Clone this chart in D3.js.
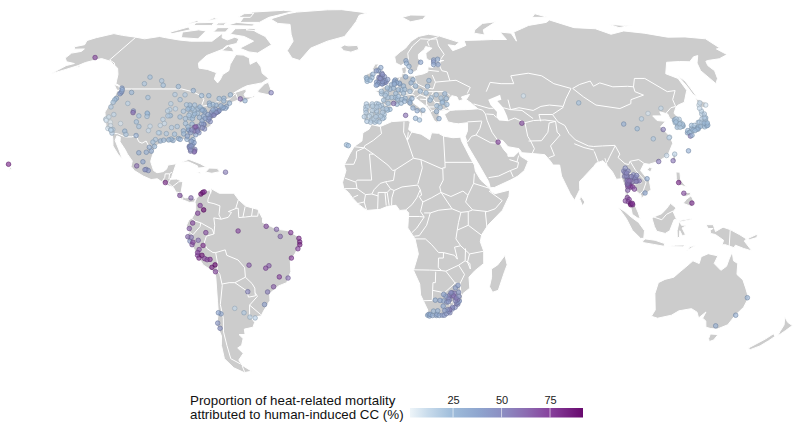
<!DOCTYPE html>
<html>
<head>
<meta charset="utf-8">
<script src="https://d3js.org/d3.v7.min.js"></script>
<style>
  body { margin: 0; background: #fff; }
  text { font-family: "Liberation Sans", Arial, sans-serif; fill: #111; }
</style>
</head>
<body>
<svg id="chart" width="800" height="430"></svg>
<script>
// land outlines, lon/lat
var northAmerica = [[-168,65.6],[-164,66.5],[-166,68.3],[-163,69.5],[-156.5,71.3],[-150,70.5],[-141,69.7],[-135,69],[-128,70],[-124,69.5],[-115,68.5],[-108,68],[-100,68],[-96,68],[-94,71.5],[-92,69.5],[-88,68.5],[-85,69.7],[-82,69],[-81.5,67],[-86,66],[-87,64.5],[-93,62],[-94.5,59],[-92.5,57],[-88,56.5],[-82.5,55.2],[-82,52.8],[-79.5,51.3],[-79,52.5],[-79,54.5],[-77,56],[-78,58.5],[-78,62.4],[-74,62.2],[-70,61],[-68,58.5],[-65.5,59.8],[-62,57.5],[-60,55],[-56,53],[-58.5,51.3],[-65,50.2],[-67,49.3],[-70,47.5],[-65,49],[-64.5,48],[-65,47],[-64,46],[-61,46],[-60,47],[-60,46],[-63.5,44.6],[-66,43.6],[-66,45],[-67,44.8],[-70,43.7],[-70.5,41.8],[-74,40.6],[-75,38.5],[-76,37],[-75.5,35.3],[-78,33.9],[-81,32],[-81.4,30.5],[-80,27],[-80.2,25.3],[-81.5,25.9],[-82.8,28],[-84,30],[-86,30.4],[-89.5,30.2],[-89.3,29.2],[-91,29.2],[-94,29.6],[-97,27.9],[-97.4,25],[-97.8,22.3],[-96,19],[-94.5,18.2],[-92,18.6],[-90.7,19.5],[-90.3,21],[-87,21.5],[-87.6,19],[-88.2,16.5],[-88.8,15.8],[-86,15.9],[-83.3,15],[-83.7,11],[-82,9],[-80,9.2],[-77.5,8.7],[-78,7.5],[-80,7.3],[-81,7.7],[-83,8.3],[-85,10],[-87,12.8],[-90,13.7],[-94,16],[-96.5,15.7],[-100,17],[-104,19],[-105.6,20.5],[-105.5,22.5],[-108,25],[-109.5,26.7],[-112.5,29.5],[-113,31.2],[-114.7,31.7],[-114.7,30],[-112,26.5],[-109.8,23.2],[-112,25],[-115,28],[-116,30.7],[-117.2,32.6],[-120.5,34.5],[-122.5,37.7],[-124.3,40.4],[-124.2,43],[-124,46.3],[-124.7,48.4],[-122.5,47.5],[-122.7,49],[-125,50.2],[-127.5,51],[-130,54.5],[-133,57],[-137,58.5],[-140,59.7],[-146,60.8],[-149,60],[-152,59.2],[-154,58],[-158,56.5],[-163,54.8],[-160,58],[-157,58.8],[-162,59.5],[-165,61],[-165,63],[-161,63.7],[-161,64.7],[-166,64.6]];
var southAmerica = [[-77.4,8.7],[-75.5,10.7],[-72,12],[-71.5,10.7],[-71.5,12.4],[-68,10.7],[-62,10.7],[-60,8.4],[-57,6],[-52,4.8],[-50,1.5],[-50,0],[-44,-2.5],[-40,-2.9],[-35.2,-5.3],[-34.9,-8],[-37,-11.5],[-39,-14],[-39,-18],[-41,-22],[-44.5,-23.2],[-48.5,-26],[-48.7,-28.5],[-52,-32.3],[-53.5,-34.2],[-58,-34.7],[-56.8,-36.5],[-58,-38.3],[-62,-39],[-62.3,-41],[-65,-41],[-63.7,-42.5],[-65.3,-45],[-67.5,-46],[-65.8,-48],[-69,-50.5],[-68.5,-52.5],[-65,-54.8],[-69,-55.3],[-73,-53.5],[-75.5,-50],[-74.5,-45],[-73,-41.5],[-73.7,-37.5],[-71.6,-33],[-71,-29],[-70.3,-20],[-70.5,-18.3],[-75,-15.5],[-77,-12.3],[-79.5,-7.5],[-81.3,-5.5],[-80,-3.3],[-81,-1],[-80,1],[-78.8,1.6],[-77.3,4],[-77.5,7],[-78,7.5]];
var africa = [[-5.9,35.8],[-2,35.1],[3,36.9],[10,37.3],[11,36.9],[10.2,34],[11.5,33.1],[15.5,32.3],[19,30.3],[20,32.8],[23,32.6],[25,31.6],[29,31],[32.3,31.2],[32.5,29.9],[34,27],[35.5,24],[37.2,21],[37.5,18.7],[39.5,15.5],[43.1,12.5],[43.3,11.5],[45,10.5],[51.2,11.9],[50.8,9.5],[48,4.5],[42,-1],[39.5,-4.5],[39,-7],[40.5,-10.5],[40.7,-15],[37,-17.8],[34.9,-20],[35.5,-24],[32.8,-26],[32.5,-28.5],[31,-30],[28,-33],[25.7,-34],[22,-34.2],[20,-34.8],[18.4,-34.2],[18.3,-32],[15,-26.5],[14.5,-22.5],[11.8,-17.5],[13.7,-11.5],[12.3,-6],[9.3,-2],[9.5,1],[9.7,3.5],[8.5,4.6],[6,4.4],[4.5,6.3],[1,5.9],[-2,4.8],[-7.5,4.4],[-11,6.8],[-13.3,9],[-15,11],[-17,12.5],[-17.5,14.7],[-16.2,19],[-17,21],[-14.8,25],[-13,27.8],[-9.8,29.8],[-9.5,32.8],[-6.9,34.1]];
var eurasia = [[-9,37],[-9.5,38.7],[-8.8,41.5],[-9.2,43.2],[-8,43.7],[-2,43.4],[-1.2,44.7],[-1.2,46],[-2.5,47.3],[-4.7,48.2],[-1.6,48.6],[-1.5,49.6],[1.5,50.2],[4,51.8],[5,53.3],[8,53.7],[8.5,55.5],[8.2,57],[10.5,57.7],[10.5,56],[10,54.6],[11,54],[14,54],[18.5,54.7],[21,55.5],[21.5,57.5],[24,57.2],[24.3,58.4],[23.5,59.2],[28,59.6],[30,60],[25,60.2],[22.5,60],[21.3,61],[21.5,63],[25.3,65],[22,65.7],[21,64.5],[17.5,62.5],[17.2,60.7],[18.8,59.8],[16.5,57.5],[16,56.2],[14.3,55.5],[13,55.4],[11.3,58.5],[10.5,59.3],[8,58],[5.5,59],[5,61.5],[8,63.5],[11,65],[14.5,68],[19,70],[25,71],[31,70.2],[41,67.5],[38,66],[34.5,66.5],[36,64],[40,65],[44,66.2],[44,68.3],[54,68.5],[60,68.7],[68,68.7],[67,72],[73,71.5],[73,68],[75,72],[81,73.5],[87,75],[100,76.5],[104,77.7],[113,74],[125,73.5],[130,71],[140,72.5],[150,71.5],[160,69.7],[170,69.8],[180,69],[180,65],[177.5,64.7],[179,62.4],[172,60.7],[165,60],[163.5,59.7],[162,58],[162.5,56],[160,53],[156.8,51],[155.6,56],[158,59],[163,62],[160,61.5],[155,59.5],[150,59.6],[143,59.3],[137,54.8],[141,53],[140.5,48.5],[135.5,44],[132,43],[130.5,42.3],[128,40],[129.4,37],[129,35.2],[126.4,34.5],[126.6,37],[125,38],[125,39.7],[122,40.5],[122,39],[118,39],[119,37.3],[122.5,37],[119.3,35],[121.8,31.5],[122,29],[118.5,24.5],[114,22.3],[110,21.3],[108,21.6],[106,19],[109,15],[109.3,12],[106.8,10.4],[105,8.7],[105,10],[102.9,11.7],[100.9,13.4],[100,13.4],[99.8,11],[100.3,8.5],[102.3,6.2],[103.5,3.5],[104.2,1.4],[103,1.7],[101,3],[100.4,6],[98.3,8],[98.7,13],[97.7,16],[95.5,15.8],[94.3,18.5],[92.3,21],[91,22.6],[88,21.7],[86.8,20.5],[82,16.5],[80.2,15],[80,12],[77.6,8.1],[76,10.5],[73,17],[72.7,21],[70,21],[69,22.5],[67,24.8],[62,25.2],[57.5,25.5],[56.5,27],[52,27.7],[50,30],[48,30.2],[50,26.7],[51.5,25],[51.5,24.2],[54,24.2],[56.3,26],[56.7,24.3],[59.8,22.5],[57.8,19],[55,17],[52,15.6],[45,12.8],[43.3,12.7],[42.7,15],[39.2,21],[35,28],[34.5,29.5],[34.2,31.3],[35.5,33.5],[36,36.5],[32,36.1],[30,36.3],[27.5,36.8],[26.3,39.5],[29,41],[31.5,41.2],[36,41.3],[41.5,41.6],[39,43.7],[37,45],[39,47],[35,46],[35.5,45],[33.5,44.5],[33,46],[30.7,46.5],[28.7,44.5],[28,42],[29,41.2],[26.2,40.9],[24,40.8],[23.8,38],[22.8,36.5],[21.5,37.3],[19.4,41.5],[18.5,42.5],[14.5,45.2],[13.5,45.7],[12.3,45.3],[12.5,44],[16,41.8],[18.4,40],[16.7,40],[16,38],[15.7,40],[12.5,41.5],[10.2,43],[8.8,44.4],[6,43.2],[3.2,43.2],[3,41.9],[0,39.7],[-0.3,38.5],[-2,36.8],[-5.3,36.1],[-6.3,36.7],[-7.5,37.2]];
var australia = [[114,-22],[113.5,-26],[115.7,-32],[115,-34.3],[118,-35],[123.5,-33.9],[126,-32.3],[131,-31.5],[134,-32.8],[135.7,-34.9],[137.8,-32.7],[137.5,-35],[139.5,-36],[141,-38.3],[143.5,-38.8],[146.4,-39],[150,-37.4],[151,-34],[153,-31],[153.5,-27.5],[151,-24],[149,-21],[146,-19],[145.4,-15],[143.5,-14],[142.5,-10.8],[141.7,-13],[141,-16],[139,-17.5],[135.7,-15],[136.8,-12.2],[132.7,-11.4],[130,-12.5],[129.5,-15],[126.8,-14],[124,-16.5],[122.2,-18],[120,-20],[116.5,-20.8]];
var islands = [
  [[-62,66.5],[-67,63],[-72,63.5],[-78,65],[-73,68],[-80,70],[-89,71],[-89,73.5],[-80,73.7],[-75,72],[-68,70]],
  [[-105,69],[-115,69.5],[-118,72],[-110,73],[-105,72.5]],
  [[-125,72],[-118,74.3],[-115,73],[-123,71.2]],
  [[-90,76.5],[-78,76.5],[-75,79],[-62,82.5],[-70,83.1],[-90,82],[-92,80]],
  [[-96,75],[-80,74.7],[-80,75.7],[-92,76.5]],
  [[-95,79],[-87,79],[-88,81.3],[-94,81]],
  [[-116,75],[-105,75],[-106,76.5],[-117,76.3]],
  [[-100,72],[-93,72],[-93,74],[-100,74]],
  [[-87,64],[-80,63.5],[-82,65],[-85,66]],
  [[-122,76],[-116,76.5],[-118,77.5]],
  [[-103,75.2],[-98,75],[-98,76.3],[-103,76.2]],
  [[-112,77.5],[-106,78],[-110,78.8]],
  [[-82,73],[-77,72.7],[-76,73.6],[-81,73.7]],
  [[-59,47.7],[-53,46.7],[-53,48.5],[-55.5,51.5],[-57,51],[-59,48.5]],
  [[-128,50.7],[-125,48.6],[-123.5,48.4],[-125,50]],
  [[-85,22],[-82,23.1],[-77,21.5],[-74.2,20.2],[-77.7,19.9],[-78,20.7],[-82,22.2]],
  [[-74.4,18.4],[-71.7,18],[-68.4,18.6],[-69.8,19.8],[-73,19.9]],
  [[-78.3,18.3],[-76.3,17.9],[-76.5,18.5]],
  [[-67.2,18],[-65.6,18],[-65.7,18.5],[-67.2,18.5]],
  [[-73,78.2],[-66,76],[-58,75.5],[-54,71],[-51,68],[-52,64],[-48,61],[-43.5,60],[-40,65],[-32,68],[-23,70],[-20,74],[-18,77],[-17,80],[-12,81.5],[-30,83.5],[-40,83.4],[-60,82],[-65,81]],
  [[-24,65.5],[-22,64],[-18,63.4],[-14,64.5],[-15,66.2],[-20,66],[-22,66.4]],
  [[-156,19],[-155,19.6],[-155.8,20.2]],
  [[-154.5,57],[-152.5,57.4],[-153,58.2]],
  [[-5.5,50],[-3,50.6],[1.3,51.2],[1.7,52.7],[0,53.3],[-1.5,55],[-2,56],[-2,57.6],[-4,57.6],[-3,58.6],[-5,58.6],[-6.2,56.7],[-5,55],[-3.2,54.8],[-3,53.4],[-4.5,53.3],[-4.5,52.2],[-5.2,51.8],[-3,51.4],[-4.3,51.1]],
  [[-10,52],[-6.2,52.2],[-6,54],[-5.6,54.7],[-7,55.3],[-8.5,54.8],[-10,54]],
  [[11,79],[16,76.8],[24,78],[27,80],[17,80.2]],
  [[51.5,71.5],[57,70.7],[58,73],[69,76.8],[60,76],[53,73]],
  [[95,79],[105,79],[100,81]],
  [[137,75.5],[145,75],[150,75.2],[140,74]],
  [[142,54.3],[143.3,52],[143,49],[143,46],[142,47],[142,50]],
  [[130.9,34],[132.5,35.5],[136,35.7],[137,37.3],[139,38],[140,40],[141.3,41.4],[142,39.5],[141,38],[140.8,35.7],[139,35],[136.8,34.5],[135.5,33.5],[135,34.6],[132,34]],
  [[140,41.5],[141.2,43.3],[141.8,45.4],[145.3,43.9],[143.2,42],[141,42.4]],
  [[130,32],[131,31.2],[132,33],[131,34],[129.7,33.3]],
  [[132.5,33.5],[134.5,33.6],[134,34.4],[132.5,34]],
  [[120.2,23],[121,22],[122,25],[121,25.2]],
  [[108.7,19.3],[110,18.5],[111,19.8],[110,20.2]],
  [[79.8,8.5],[80.8,6],[81.8,7.5],[80.2,9.7]],
  [[120.3,16],[120.6,18.5],[122.2,18.4],[122,15.5],[124,13],[121,13.8]],
  [[122,7],[125.5,5.8],[126.5,7.5],[125.5,9.8],[123.5,8.5]],
  [[122,11],[125.5,11],[125,10],[123,9.5]],
  [[109,1.5],[110,-1.5],[111,-3.2],[114.5,-4],[116.3,-3],[118,1],[119,1.2],[117.7,4],[119,5.3],[116.8,7],[115,5],[113,3.2],[111.3,2.6],[109.7,2]],
  [[95.3,5.6],[98,4],[100.5,2],[103.5,0],[106,-3],[105.8,-5.8],[104.5,-5.8],[101,-2.8],[98.5,1.5]],
  [[105.3,-6.8],[106.5,-6],[110.5,-6.5],[114.5,-7.7],[114.3,-8.7],[110,-8],[106,-7.4]],
  [[119.5,-5.5],[120.4,-5.5],[120.4,-3],[121.5,-4.8],[122.8,-4.5],[121.3,-2],[123.3,-1],[121,-1],[120.2,0.7],[125,1.5],[125,1.1],[120,0.1],[119.3,-3]],
  [[116,-8.8],[119,-8.3],[123,-8.2],[122,-8.9]],
  [[123.6,-10.3],[127.2,-8.4],[125,-8.8]],
  [[131,-0.8],[134,-0.8],[135,-3.3],[138,-1.7],[141,-2.6],[145,-4.5],[147.8,-6],[147,-6.8],[150.5,-10.4],[147,-9.5],[143.5,-8.3],[143,-9.2],[139,-8],[138,-8.3],[138.5,-6.5],[135,-4.4],[133,-4],[132.8,-2.8],[134,-2.2],[132,-2.2]],
  [[148.5,-5.8],[152.2,-4.2],[152,-5.5],[149,-6.3]],
  [[144.7,-40.8],[148.3,-41],[148,-43],[146.5,-43.6],[145.3,-42.5]],
  [[166.5,-46],[168,-46.6],[171,-45.2],[173,-43.3],[174.3,-41.7],[172.7,-40.7],[171,-42.6]],
  [[172.8,-34.5],[175.5,-36.5],[178.5,-37.7],[177,-39.5],[175.3,-41.6],[174.8,-39.8],[174.7,-37.5]],
  [[49.3,-12],[50.4,-15.5],[49.5,-18],[47.5,-24.8],[45.2,-25.5],[43.7,-23.5],[44.3,-20],[44,-17],[46.5,-15.5]]
];
var caspian = [[47,45],[53,46.8],[53,45],[51,44.5],[53,42],[53.8,39],[54,37],[50,37.3],[49,38.5],[49.7,40.4],[47.5,43]];

// country borders as open lines
var bordersAmericas = [
  [[-141,69.6],[-141,60.2]],[[-141,60.2],[-137,59],[-133,56]],
  [[-123,49],[-95,49],[-89.5,48],[-84.5,46.5],[-82.5,45],[-82.5,42.5],[-79,43],[-76,44.2],[-74.7,45],[-71,45.2],[-69,47.3],[-67.8,46],[-67,45]],
  [[-117.1,32.5],[-114.8,32.5],[-111,31.3],[-108.2,31.3],[-106.5,31.8],[-104.5,29.5],[-103,29],[-101.5,29.8],[-99.5,27.5],[-97.2,25.9]],
  [[-92.2,14.5],[-91,16.5],[-91,17.8],[-89.2,17.8],[-88.3,18.4]],[[-89.2,17.8],[-89.2,15.9]],
  [[-90,13.8],[-89.3,14.4],[-88.5,15.8]],[[-89.3,14.4],[-87.7,13.3]],[[-87.6,13],[-85,14.9],[-83.2,15]],[[-85.7,11.1],[-83.7,10.9]],[[-83,8.4],[-82.6,9.6]],[[-77.3,8.7],[-77.9,7.2]],
  [[-71.3,11.8],[-72.5,8.5],[-72.5,7.4],[-70,6.9],[-67.5,6.1],[-67.8,2.8],[-66.9,1.2]],
  [[-66.9,1.2],[-69.9,1.7],[-69.5,-1],[-69.9,-4.2]],
  [[-69.9,-4.2],[-70.5,-2.5],[-75.2,-0.1],[-77.5,0.5],[-78.8,1.4]],
  [[-75.2,-0.1],[-75.5,-1.5],[-78.5,-4.5],[-80,-3.4]],
  [[-69.9,-4.2],[-73,-5],[-74,-7.5],[-73,-9.5],[-70.6,-11],[-69.5,-11]],
  [[-69.5,-11],[-69,-15],[-69.5,-17.5]],
  [[-69.5,-17.5],[-68.5,-19],[-68,-23],[-70,-30],[-70,-35],[-71.5,-40],[-72,-45],[-72.5,-50],[-69,-52]],
  [[-68.6,-52.7],[-68.6,-55]],
  [[-68,-22.5],[-65,-22],[-62.6,-22]],[[-62.6,-22],[-58,-20]],
  [[-69.5,-11],[-65.5,-10],[-65,-12],[-60.5,-13.7],[-58,-16.5],[-58,-20]],
  [[-58,-20],[-55.5,-22.3],[-54.5,-24],[-54.6,-25.6]],
  [[-62.6,-22],[-58,-25],[-57.6,-27.3],[-54.6,-26.8],[-54.6,-25.6]],
  [[-54.6,-25.6],[-53.8,-27],[-57.6,-30.2]],
  [[-57.6,-30.2],[-58.4,-34]],[[-57.6,-30.2],[-53.5,-33.7]],
  [[-60,8.5],[-61,5.2],[-60,5.2]],[[-60.7,5.2],[-64,4],[-62.7,3.7],[-64,1.9],[-66.9,1.2]],
  [[-60,5.2],[-59.7,1.8],[-57,2],[-54.5,2.3],[-52,2.3],[-51.7,4.1]],
  [[-57.2,5.8],[-58,2]],[[-54,5.7],[-54.5,2.3]]
];
var bordersAfrica = [
  [[-2,35],[-1.5,32.5],[-5,30],[-8.7,28]],[[-8.7,28],[-8.7,27.3],[-13,27.7]],
  [[-8.7,27.3],[-12,26],[-12,23.5],[-13,21.3],[-17,21.3]],
  [[-8.7,27.3],[-4.8,25],[-6.5,25],[-5.5,15.5],[-11.5,15.5],[-12.2,14.8],[-16.5,16.2]],
  [[-4.8,25],[1.2,21],[3.2,19],[4.2,19.2]],[[4.2,19.2],[11.9,23.5]],[[11.9,23.5],[9.5,30],[10,33]],
  [[8.3,36.9],[8,33],[9.5,30]],[[9.5,30],[11.5,33.1]],[[25,31.6],[25,22]],[[25,22],[37,22]],
  [[25,22],[25,20],[24,20],[24,19.5]],[[24,19.5],[15,23]],[[15,23],[11.9,23.5]],[[15,23],[15.5,20],[13.5,14]],
  [[13.5,13.7],[7,13],[3.7,11.7]],[[4.2,19.2],[3.5,15.4],[1,15],[0.2,14.9]],[[0.2,14.9],[2.3,12.3]],
  [[3.7,11.7],[2.8,9],[2.7,6.3]],[[3.7,11.7],[2.3,12.3],[0.9,11]],[[0,11],[0.5,6.2]],[[0.9,11],[1.7,6.2]],
  [[0.9,11],[-2.8,11]],[[-2.8,11],[-3,5]],[[0.2,14.9],[-2,14.3],[-4.5,12],[-5.4,10.4]],[[-2.8,9.7],[-5.4,10.4]],
  [[-5.4,10.4],[-8,10.2]],[[-8,10.2],[-8.5,7.5],[-7.5,4.4]],[[-8.5,7.5],[-11.4,6.9]],[[-11,10],[-13,9.2]],
  [[-8,10.2],[-11.5,12.4],[-12,14.8]],[[-11.5,12.4],[-16.7,12.4]],
  [[13.5,13.7],[14.5,12],[13,9],[11,6.5],[8.5,4.6]],[[14.5,12],[15,10],[14,9.5],[15.5,7.5]],
  [[15.5,7.5],[19,9],[23,11]],[[24,19.5],[24,15.5],[22.5,13],[23,11]],[[23,11],[27.4,5]],[[15.5,7.5],[14.5,4],[16,2]],
  [[16,3.5],[18.5,3.5],[22,4.5],[27.4,5],[31,3.7]],[[9.8,2.2],[14,2.2],[16,2],[13,-2],[11,-3.7]],
  [[18.5,3.5],[17,-1],[14,-4.8],[12,-5]],[[12.3,-6],[16.5,-6],[19,-8],[22,-11],[24,-11],[24,-13]],
  [[24,-13],[22,-13],[22,-16.5],[23.5,-17.6]],[[11.8,-17.3],[18.5,-17.4],[23.5,-17.6],[25.2,-17.8]],
  [[24,-11],[28.5,-12],[29.8,-13.4],[28.5,-9],[31,-8.5]],[[31,3.7],[30,0],[29.5,-2.8],[29,-6],[31,-8.5]],
  [[23,11],[27,9.5],[32,11.5],[34,10]],[[34,10],[33,7.5],[35.8,4.6]],[[31,3.7],[34,4],[35.8,4.6],[41.8,4],[41,3.9]],
  [[34,10],[36.5,14.3],[37,17.9]],[[36.5,14.3],[43,12.5]],[[42.7,11.5],[48,8],[45,5],[41.8,4]],
  [[41,3.9],[41.6,-1.7]],[[34,4],[34,-1]],[[34,-1],[39.5,-4.7]],[[29.5,-2.8],[34,-1]],
  [[34.7,-11.5],[40.5,-10.5]],[[31,-8.5],[34.7,-11.5]],[[33,-9.5],[33,-14],[35,-15],[35.3,-17],[34,-14.5],[34.7,-11.5]],
  [[30.4,-15.6],[33,-14]],[[25.2,-17.8],[30.4,-15.6]],[[30.4,-15.6],[33,-19],[31.3,-22.4]],[[25.2,-17.8],[29.2,-22.1],[31.3,-22.4]],
  [[21,-18],[21,-22],[20,-22],[20,-28.5]],[[20,-28.5],[16.5,-28.6]],[[20,-24.8],[25,-25.7],[29.3,-22.1]],
  [[31.3,-22.4],[32,-26],[32.8,-26.9]],[[27,-29.6],[29,-28.9],[29.3,-29.9],[28,-30.6],[27,-29.6]]
];
var bordersAsia = [
  [[34.2,31.3],[34.9,29.5]],[[35,29.4],[37,31.5],[39,32],[44.7,29.2],[47.5,29]],[[39,32],[41,34.4],[42.3,37]],[[36,36.8],[42.3,37.1]],
  [[48,30],[46,33],[44.7,37.3]],[[44.7,37.3],[44.4,39.7],[43.5,41.1],[41.5,41.6]],[[40,43.4],[46.5,41.8],[48.5,41.8]],[[44.8,39.7],[48,39.5],[48.9,38.4]],
  [[42.8,16.4],[47,17],[52,19],[55,20],[55.7,22],[52,23]],[[55,22],[56,24.5]],[[52,19],[53,16.6]],
  [[54,37.3],[57,38.2],[61,36.5]],[[61,36.5],[61,31.5],[61.8,30],[63,27],[61.6,25]],[[61,29.8],[66.5,29.9],[70,33],[71.5,36.4],[74.5,37]],
  [[61,36.5],[65,37.3],[70,37.5],[74.5,37]],[[53,42],[56,41.3],[61,41],[65,38]],[[56,45],[56,41.3],[60,42],[66,41],[70,42.5]],
  [[70,42.5],[74,43],[80,42.5]],[[68,39.5],[74,39.5]],[[74,39.5],[80,42.2]],[[68,37],[68,39.5]],
  [[47,48],[50,51.5],[55,51],[61,51],[61,54],[70,55],[76,54],[80,51],[87,49.2]],[[87,49.2],[82.5,45.3],[80,42.5]],
  [[87.8,49.2],[92,50.7],[98,52],[98,50],[102,51.3],[107,49.8],[114,50],[116.7,49.8]],
  [[87.8,49.2],[91,46],[95,43],[105,41.7],[111,43.5],[112,45],[119,46.7],[116,48],[116.7,49.8]],
  [[116.7,49.8],[120,53],[125,53],[131,48],[135,48.4],[131,45],[130.5,42.5]],[[130.5,42.5],[128,42],[124.5,40]],[[126.7,37.8],[128.4,38.6]],
  [[74,39.5],[75.5,36.8],[78,35.5],[79,32.5],[81,30.2],[86,28],[88.2,27.8],[92,28],[97.3,28.2],[98.5,25],[97.5,23.8],[100,21.5],[101.5,21.2],[102.3,22.4],[106,23],[108,21.6]],
  [[80.2,28.8],[84,27.4],[88,26.5]],[[74.5,37],[74,33],[75,32],[70,28],[71,24.5],[68.5,23.7]],[[88,26],[89,22]],[[92,23.5],[92.4,21]],
  [[97.3,28],[94,24],[92.6,22]],[[100,20.5],[98,19],[97.5,16.5],[99,11],[98.7,10]],[[100,20.5],[101,18],[104,18],[105.6,14.5]],
  [[105.6,14.4],[102.7,14],[102.9,11.7]],[[102.3,22.4],[104,19],[107.5,15],[107.5,14.5]],[[107.5,14.5],[106,11.5],[104.5,10.4]],[[100.2,6.5],[102,6.2]],
  [[141,-2.6],[141,-9.1]],[[109.7,2],[113,1],[115,3],[117.7,4.2]]
];
var bordersEurope = [
  [[28,60],[31,62.5],[29,66],[29,69],[25.5,68.8],[23.5,67.8],[24,65.8]],[[30.5,70],[25.5,68.8],[20,69],[15,66],[12,63],[12,60],[11.3,59]],
  [[28,59.5],[27.5,57.5],[28,56],[30.5,55.5],[31,52.1]],[[40,49.6],[38,47.3]],[[31,52.1],[34,52.3],[40,49.6]],[[24,51.6],[31,52.1]],
  [[23,54.3],[24,51.6],[22.5,49]],[[22.5,48],[28,48],[30,46.5]],[[21,56.2],[26.5,55.7]],[[24.4,57.9],[27.5,57.6]],
  [[14.2,54],[15,51]],[[15,51],[19,49.4],[22.5,49]],[[15,51],[12.2,50],[13.8,48.7]],[[13.8,48.7],[13,47.5],[9.6,47.5]],
  [[8.5,54.9],[9.7,54.8]],[[7.1,53.3],[6,51],[6,49.5],[8.2,49],[7.6,47.6]],[[3.4,51.4],[6,51.3]],[[2.5,51],[6,49.5]],
  [[7.6,47.6],[6,46.2],[7.5,43.8]],[[-1.8,43.4],[3.2,42.4]],[[-8.8,42],[-6.5,41.8],[-7,39.5],[-7.4,37.2]],
  [[6.8,46],[10.5,46.8],[12.5,47],[13.7,46.5]],[[13.8,48.7],[16.9,48.6]],[[16.9,48],[16.1,46.8]],[[16.9,48],[22.5,48]],
  [[16.1,46.8],[19,45.9],[21,46.2],[22.5,48]],[[13.6,45.5],[16.1,46.8]],[[22.7,44],[28.5,43.7]],[[21,46.2],[22.7,44]],[[22.7,44],[22.5,42.3]],
  [[22.5,41.3],[26.3,41.3],[28,42]],[[19.4,40],[21,40.8],[22.5,41.3]],[[19.5,42.3],[21,40.8]],[[16,45.2],[19,45],[18.5,42.5]],
  [[19,45.9],[19,45]],[[19,43.3],[19.5,42.3],[22.5,42.3]],[[26.2,40.9],[26.3,41.6]]
];

// city points: lon, lat, share of heat deaths attributed to CC (%)
var citiesNorthAmerica = [
  [-149.9,61.2,72],[-156.8,21.3,82],[-123.1,49.3,38],[-122.3,47.6,42],[-122.4,47.2,38],[-122.2,48,40],[-122.5,48.7,34],[-122.7,45.5,30],[-123,44.9,24],[-123.1,44,20],[-122.9,42.3,18],[-117.4,47.7,28],[-116.2,43.6,16],
  [-122.4,37.8,9],[-122.2,37.8,10],[-121.9,37.3,8],[-121.5,38.6,11],[-119.8,36.7,6],[-119,35.4,8],[-119.7,34.4,10],[-118.2,34,13],[-117.2,32.7,18],[-117.4,34,15],[-117.9,33.8,14],[-118.2,33.8,16],[-115.1,36.2,9],[-119.8,39.5,14],
  [-112,33.4,26],[-111,32.2,20],[-111.9,40.8,44],[-111.7,40.2,62],[-105,39.7,24],[-105.3,40,24],[-104.8,38.8,20],[-108.5,39,22],[-108.5,36.8,22],[-106.6,35.1,22],[-106.5,31.8,32],[-108.5,45.8,22],
  [-113.5,53.5,22],[-114,51,20],[-106.7,52.1,20],[-104.6,50.4,22],[-97.1,49.9,24],[-89.2,48.4,28],[-84.3,46.5,24],[-81,46.5,24],[-79.4,43.7,26],[-75.7,45.4,24],[-73.6,45.5,26],[-71.2,46.8,24],[-63.6,44.6,28],[-66,45.3,60],[-52.7,47.6,52],
  [-93.3,45,20],[-92.1,46.8,18],[-96.8,46.9,18],[-96.7,43.5,16],[-96,41.3,15],[-96.7,40.8,15],[-93.6,41.6,14],[-94.6,39.1,18],[-94.9,39.1,18],[-97.3,37.7,15],[-96,36.2,12],[-97.5,35.5,12],[-96.8,32.8,16],[-97.3,32.8,16],[-97.7,30.3,20],[-98.5,29.4,22],[-95.4,29.8,28],[-97.4,27.8,26],[-101.9,33.6,12],[-101.8,35.2,12],[-95.7,39,18],[-92.3,34.7,18],[-90,35.1,20],[-93.8,32.5,20],[-90.2,32.3,22],[-90.1,30,28],[-91.1,30.5,26],[-88,30.7,28],[-87.2,30.4,30],[-94.1,30.1,26],[-92,30.2,26],
  [-84.3,30.4,28],[-81.7,30.3,30],[-82.5,28,44],[-81.4,28.5,40],[-82.7,27.8,46],[-82.5,27.3,48],[-81,29.2,38],[-80.1,26.7,50],[-80.1,26.1,58],[-80.2,25.8,60],[-81.8,26.1,52],[-81.9,26.6,48],[-82,28,42],[-82.3,29.7,36],
  [-84.4,33.7,32],[-84.7,33.9,34],[-86.8,33.5,28],[-86.3,32.4,26],[-86.8,36.2,22],[-83.9,36,25],[-85.3,35,26],[-85.8,38.3,22],[-84.5,38,24],[-80.8,35.2,42],[-78.6,35.8,46],[-78.9,36,44],[-79.8,36.1,40],[-81,34,56],[-79.9,32.8,42],[-81.1,32.1,35],[-82,33.5,58],[-82.4,34.8,60],[-81.9,35,65],[-77.9,34.2,46],[-76.3,36.9,46],[-77.4,37.5,44],[-77,38.9,46],[-76.6,39.3,50],[-75.2,40,50],[-75.6,39.7,52],[-74,40.7,44],[-74.2,40.7,46],[-74.4,40.4,48],[-73.8,40.9,40],[-72.7,41.8,35],[-71.1,42.4,32],[-71.4,41.8,32],[-72.5,42.1,34],[-73.8,42.7,30],[-76.1,43,28],[-77.6,43.2,26],[-78.9,42.9,26],[-80,40.4,34],[-80.7,41.1,30],[-81.7,41.5,28],[-81.5,41.1,30],[-83,40,24],[-84.5,39.1,24],[-84.2,39.8,24],[-83.6,41.6,26],[-83,42.3,26],[-85.7,43,22],[-85.1,41.1,22],[-86.2,41.7,22],[-86.2,39.8,20],[-87.6,41.9,24],[-87.9,43,24],[-89.4,43.1,20],[-88,41.5,24],[-90.2,38.6,22],[-89.6,40.7,20],[-87.6,38,22],[-86.5,39.2,20],[-76.9,40.3,44],[-75.5,40.6,44],[-75.7,41.4,38],[-74.8,40.2,48],[-75.5,39.2,50],[-73.2,44.5,26],[-70.3,43.7,28],[-80,37.3,36],[-81.6,38.4,28],[-79.9,38.9,32],[-78.9,38.1,36],[-77.3,38.3,42],[-83.5,32.9,40],[-84.5,31.6,36],[-80.7,33.4,50],[-83.3,33.9,48],[-79,34.6,48],[-78.2,39.5,38],[-76.7,41.2,32],
  [-99.5,27.5,34],[-98.3,26.1,34],[-100.3,25.7,32],[-103.4,25.5,34],[-101,22.2,38],[-103.3,20.7,62],[-99.1,19.4,42],[-98.2,19,44],[-99.6,19.3,48],[-90.5,14.6,80],[-84.1,9.9,68],[-79.5,9,62],[-66.1,18.4,55]
];
var citiesSouthAmerica = [
  [-74.8,11,88],[-75.5,10.4,90],[-74.2,11.2,82],[-75.6,6.2,72],[-74.1,4.6,92],[-76.5,3.4,72],
  [-78.5,-0.2,72],[-79.9,-2.2,66],[-79.8,-6.8,45],[-79.2,-5.4,58],[-80.6,-5.2,62],[-79,-8.1,68],[-78.6,-7.2,72],[-73.2,-3.7,70],[-74.5,-8.4,80],[-76.4,-6.5,60],[-76.2,-9.9,70],[-77,-12,72],[-76.5,-13,80],[-76.9,-11,74],[-75.2,-12,88],[-74.2,-13.2,74],[-73.2,-13.6,72],[-72,-13.5,78],[-71.5,-16.4,84],[-70.1,-15.5,90],[-70.2,-18,72],
  [-60,-3.1,72],[-48.5,-1.4,70],[-44.3,-2.5,62],[-38.5,-3.7,76],[-35.2,-5.8,80],[-34.9,-7.1,82],[-34.9,-8.1,84],[-35.7,-9.6,74],[-38.5,-13,76],[-42.8,-5.1,62],[-56.1,-15.6,66],[-47.9,-15.8,66],[-49.3,-16.7,70],[-43.9,-19.9,74],[-40.3,-20.3,60],[-46.6,-23.5,66],[-49.3,-25.4,55],[-51.2,-30,40],[-57.6,-25.3,52],
  [-58.4,-34.6,16],[-56.2,-34.9,18],[-60.6,-33,20],[-64.2,-31.4,14],[-70.6,-33.4,36],[-71.6,-33,38],[-73,-36.8,44],[-72.6,-38.7,46]
];
var citiesEurope = [
  [-16.3,28.4,22],[-15.5,28.1,24],
  [-0.1,51.5,46],[-0.5,51.3,44],[0.5,51.6,46],[-1.3,51,42],[-1.9,52.5,46],[-1.1,52.6,46],[-1.5,53.4,48],[-2.2,53.5,50],[-2.9,53.4,48],[-1.5,53.8,50],[-0.3,53.7,44],[-1.6,55,46],[-1.2,54.5,48],[-3.2,56,38],[-4.3,55.9,40],[-2.1,57.2,34],[-3,51.5,40],[-4,51.6,38],[-2.6,51.5,42],[-3.5,50.7,38],[-4.1,50.4,36],[-1.4,50.9,42],[0.1,52.2,44],[1.3,52.6,42],[-1.2,51.8,44],[-2,52.9,46],[-2.4,53,48],[-5.9,54.6,28],
  [-6.3,53.3,26],[-8.5,51.9,24],[-9,53.3,22],[-8.6,52.7,24],[-7.1,52.3,24],
  [2.35,48.9,26],[4.8,45.8,24],[5.4,43.3,26],[-0.6,44.8,22],[1.4,43.6,22],[-1.6,47.2,22],[3.1,50.6,28],[7.7,48.6,26],[7.3,43.7,25],[3.9,43.6,58],[-1.7,48.1,20],[5,47.3,24],[5.7,45.2,26],[3.1,45.8,22],[1.3,45.8,22],[0.7,47.4,22],[1.1,49.4,24],[4,49.3,26],[6.2,48.7,26],[0.1,46.6,20],
  [-3.7,40.4,18],[-3.7,40.9,18],[2.2,41.4,24],[1.1,41.1,24],[-0.4,39.5,22],[-0.5,38.3,20],[-1.1,38,20],[-5.98,37.4,16],[-4.4,36.7,20],[-3.6,37.2,18],[-4.8,37.9,16],[-2.5,36.8,20],[-8.6,42.3,18],[-8.4,43.4,18],[-5.8,43.4,18],[-3.8,43.5,20],[-2.9,43.3,20],[-1.6,42.8,20],[-0.9,41.6,20],[-4.7,41.7,16],[-5.7,41,16],[-6,39.5,16],[-6.9,38.9,16],[-3,39,18],[-1.9,38.9,18],[-2.5,42.5,18],[-3.7,42.3,18],[-5.6,42.6,16],[-7.9,42.3,16],[-6.3,36.7,18],[-4,38.7,18],[-1.1,40.3,18],[0.6,41.6,20],
  [-9.1,38.7,18],[-8.6,41.2,18],[-8.4,40.2,18],[-7.9,37,20],
  [12.5,41.9,30],[14.3,40.9,32],[9.2,45.5,24],[7.7,45.1,24],[8.9,44.4,28],[11.3,44.5,28],[11.3,43.8,30],[12.3,45.4,28],[16.9,41.1,26],[13.4,38.1,26],[15.1,37.5,22],[9.1,39.2,60],
  [13.4,52.5,28],[10,53.6,30],[11.6,48.1,22],[8.7,50.1,26],[7,50.9,30],[9.2,48.8,24],[6.8,51.2,32],[4.9,52.4,34],[4.5,51.9,36],[5.5,51.4,34],[4.4,51.2,34],[4.4,50.8,32],[8.5,47.4,22],[6.1,46.2,22],[16.4,48.2,24],[14.4,50.1,24],[19,47.5,22],[21,52.2,26],[20,50,26],[12.4,51.3,28],
  [10.7,59.9,32],[10.9,58.9,30],[12,57.7,28],[18.1,59.3,36],[12.6,55.7,30],[24.9,60.2,38],[24.7,59.4,42],[26.7,58.4,38],[24.5,58.4,36],[27,60.5,34],
  [26.1,44.4,24],[23.6,46.8,22],[27.6,47.2,26],[28,45.4,24],[25.6,45.6,22],[21.2,45.7,20],[20.5,44.8,22],[23.3,42.7,22],[24.7,42.1,22],[27.9,43.2,24],[25.9,43.9,24],[22.9,40.6,28],[23.7,38,30]
];
var citiesAsia = [
  [63.6,46.4,10],[59.6,36.3,70],[48,29.4,72],[87.6,43.8,22],[103.8,36,32],[108.9,34.3,24],[112.5,37.9,16],[116.4,39.9,9],[123.4,41.8,13],[114.3,30.6,20],[120,34,55],[121.5,31.2,14],[121.2,31,14],[118,24.5,12],[121.5,25,16],[120.3,22.6,58],[114.2,22.3,56],[127.7,26.2,32],
  [121,14.6,82],[122.6,10.7,70],[125.6,7.1,78],[108.2,16,34],[106.7,10.8,36],
  [100.5,13.75,68],[100.6,14,72],[100.3,13.5,70],[100,13.8,66],[101,13.4,70],[100.9,12.9,74],[99.9,13.1,68],[99.8,14,60],[100.1,14.5,58],[100,15.7,55],[100.3,16.8,55],[99.1,16.9,52],[99.8,17,52],[98.98,18.8,50],[99.5,18.3,52],[99.8,19.9,48],[100.8,18.8,50],[100.1,18.1,52],[99.8,15.2,56],[102.8,16.4,55],[102.1,15,56],[103.1,16.2,52],[104,15.2,54],[104.8,15.2,55],[102.8,17.4,50],[103.6,16.5,52],[103.5,15,55],[101.2,15.4,58],[101.8,16.8,52],[104.1,17.2,50],[100.6,15.2,60],[101.9,13,72],[102.5,12.2,70],[99.7,11.8,64],[99.3,9.1,70],[100,8.4,72],[98.4,7.9,70],[99.6,7.6,72],[100.5,7,76],[100.5,6.5,88],[101.3,6.5,80],[101.2,7,78],
  [126.98,37.55,20],[127.1,37.3,20],[126.7,37.45,22],[127.4,36.35,20],[127.5,36.6,20],[128.6,35.87,22],[129.07,35.18,20],[129.3,35.54,20],[126.85,35.16,20],[127.15,35.82,20],[128.7,36.6,18],[128,37.3,18],[128.9,37.75,16],[126.5,36.5,20],[127.7,37.9,18],[127.9,35.2,20],[128.7,35.2,22],[126.4,34.8,18],[127.7,34.8,16],[129.3,36,20],[128.2,36.1,20],[127,36.8,22],
  [129.9,32.8,30],[130.4,33.6,24],[131,33,22],[130.7,32.8,24],[131.6,33.2,22],[130.6,31.6,55],[131.4,31.9,28],[132.5,34.4,24],[133.9,34.7,24],[133,35.5,22],[134.2,35.5,20],[135.2,34.7,24],[135.5,34.7,24],[135.8,35,22],[135.2,34.2,24],[136.9,35.2,24],[136.6,36.6,20],[137.2,36.7,20],[138.2,36.6,18],[138.6,35.7,22],[138.4,35,22],[139.7,35.7,26],[139.6,35.4,24],[140.1,35.6,24],[139.9,36.6,24],[139.1,36.4,24],[140.4,36.4,24],[139,37.9,18],[140.5,37.8,20],[140.9,38.3,20],[140.3,38.3,18],[140.1,39.7,16],[141.2,39.7,18],[140.7,40.8,16],[141.4,43,10],[140.7,41.8,12],[142.4,43.8,12],[144.4,43,10],[132.8,33.8,26],[134.6,34.1,26],[133.5,33.6,26],
  [144.96,-37.8,32],[151.2,-33.9,32],[153,-27.5,30]
];
var citiesSouthAfrica = [
  [18.4,-33.9,30],[18.9,-33.6,32],[19.2,-34.2,32],[19.5,-33.6,34],[20.5,-34,32],[22.1,-34,34],[22.4,-33.6,36],[23.4,-34,34],[24.7,-33.9,40],[25.6,-33.9,42],[26.5,-33.3,44],[27.9,-33,48],[27.4,-32.5,44],[28.8,-31.6,44],[29.9,-31,46],[30.9,-29.9,48],[30.4,-29.6,52],[31,-29.2,46],[31.5,-28.7,40],[30.7,-28.2,55],[29.8,-28.6,50],[28.8,-31,50],[27.7,-31.9,55],[26.7,-31.9,45],[25.6,-32.2,40],[24.8,-30.6,36],[24.8,-28.7,36],[23.3,-28.5,36],[21.3,-28.4,32],[20.8,-32.4,28],[22.6,-32.3,30],[26.2,-29.1,42],[27.3,-28.2,50],[28,-26.2,58],[28.2,-25.7,55],[27.2,-26.7,56],[28.6,-26.8,55],[29.2,-25.9,55],[29,-26.9,58],[30.9,-25.5,44],[29.5,-23.9,40],[30.5,-23,40],[27.7,-25.7,46],[26.7,-27.7,50],[25.6,-26.9,40],[24.7,-26.3,38],[30.1,-27.6,56],[31.2,-27,46],[26.9,-29,45]
];

var coasts = [northAmerica, southAmerica, africa, eurasia, australia].concat(islands);
var borders = bordersAmericas.concat(bordersAfrica, bordersAsia, bordersEurope);
var cities = citiesNorthAmerica.concat(citiesSouthAmerica, citiesEurope, citiesAsia, citiesSouthAfrica);

var legendTitle = ["Proportion of heat-related mortality", "attributed to human-induced CC (%)"];
var legendTicks = [25, 50, 75];
var colorStops = [3, 12, 25, 38, 50, 63, 75, 92];
var colorRange = ["#eef5f9", "#c9dcec", "#9ebcda", "#8fa6cf", "#8c8fc3", "#8c6bb1", "#88419d", "#680a6e"];

// robinson table, every 5 degrees
var robinsonLen = [1,.9986,.9954,.99,.9822,.973,.96,.9427,.9216,.8962,.8679,.835,.7986,.7597,.7186,.6732,.6213,.5722,.5322];
var robinsonDfe = [0,.062,.124,.186,.248,.31,.372,.434,.4958,.5571,.6176,.6769,.7346,.7903,.8435,.8936,.9394,.9761,1];

function robinsonRaw(lambda, phi) {
  var deg = Math.min(Math.abs(phi) * 180 / Math.PI, 89.999);
  var i = Math.floor(deg / 5), t = deg / 5 - i;
  var len = robinsonLen[i] + (robinsonLen[i + 1] - robinsonLen[i]) * t;
  var dfe = robinsonDfe[i] + (robinsonDfe[i + 1] - robinsonDfe[i]) * t;
  return [lambda * len, (phi < 0 ? -1 : 1) * Math.PI / 2 * dfe];
}

var projection = d3.geoProjection(robinsonRaw).scale(140.4).translate([385, 222.5]);

var svg = d3.select("#chart");

var line = d3.line()
  .x(function(d) { return projection(d)[0]; })
  .y(function(d) { return projection(d)[1]; });

svg.append("g").selectAll("path")
  .data(coasts)
  .enter().append("path")
    .attr("d", function(d) { return line(d) + "Z"; })
    .attr("fill", "#cccccc")
    .attr("stroke", "#fff")
    .attr("stroke-width", 1);

svg.append("path")
  .attr("d", line(caspian) + "Z")
  .attr("fill", "#fff");

svg.append("g").selectAll("path")
  .data(borders)
  .enter().append("path")
    .attr("d", line)
    .attr("fill", "none")
    .attr("stroke", "#fff")
    .attr("stroke-width", 1);

var color = d3.scaleLinear().domain(colorStops).range(colorRange);

svg.append("g").selectAll("circle")
  .data(cities)
  .enter().append("circle")
    .attr("cx", function(d) { return projection(d)[0]; })
    .attr("cy", function(d) { return projection(d)[1]; })
    .attr("r", 2.3)
    .attr("fill", function(d) { return color(d[2]); })
    .attr("fill-opacity", 0.65)
    .attr("stroke", function(d) { return d3.color(color(d[2])).darker(0.7); })
    .attr("stroke-opacity", 0.8)
    .attr("stroke-width", 0.8);

// legend
var legendX = d3.scaleLinear().domain([2.8, 92]).range([410, 583]);

var grad = svg.append("defs").append("linearGradient").attr("id", "legendGrad");
grad.selectAll("stop")
  .data(colorStops)
  .enter().append("stop")
    .attr("offset", function(d) { return (d - 3) / 89; })
    .attr("stop-color", function(d) { return color(d); });

svg.append("rect")
  .attr("x", legendX(2.8))
  .attr("y", 408)
  .attr("width", legendX(92) - legendX(2.8))
  .attr("height", 9.5)
  .attr("fill", "url(#legendGrad)");

var axis = svg.append("g")
  .attr("transform", "translate(0,404)")
  .call(d3.axisTop(legendX).tickValues(legendTicks).tickSize(0).tickPadding(0));
axis.select(".domain").remove();
axis.selectAll("text").style("font-size", "11px").attr("font-family", "Liberation Sans").style("fill", "#222");

svg.append("g").selectAll("line")
  .data(legendTicks)
  .enter().append("line")
    .attr("x1", legendX).attr("x2", legendX)
    .attr("y1", 408).attr("y2", 417.5)
    .attr("stroke", "#fff")
    .attr("stroke-width", 0.6);

svg.selectAll(".ltitle")
  .data(legendTitle)
  .enter().append("text")
    .attr("class", "ltitle")
    .attr("x", 190)
    .attr("y", function(d, i) { return 404.5 + i * 14; })
    .style("font-size", "13.35px")
    .text(function(d) { return d; });
</script>
</body>
</html>
